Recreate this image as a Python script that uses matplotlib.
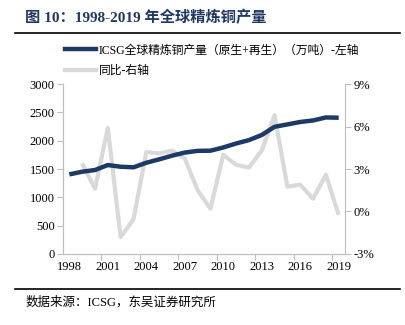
import numpy as np
import matplotlib
matplotlib.use("Agg")
import matplotlib.pyplot as plt
from matplotlib.lines import Line2D

plt.rcParams['font.family'] = ['Liberation Serif', 'Noto Sans CJK SC', 'DejaVu Sans']

years = list(range(1998, 2020))
# refined copper output (10k t), left axis
output = [1405, 1452, 1482, 1570, 1540, 1530, 1610, 1670, 1735, 1790, 1820,
          1823, 1880, 1950, 2010, 2100, 2245, 2287, 2330, 2357, 2410, 2405]
# yoy (%), right axis, starts 1999
yoy_years = list(range(1999, 2020))
yoy = [3.4, 1.6, 5.9, -1.8, -0.55, 4.2, 4.1, 4.3, 3.75, 1.5,
       0.2, 4.0, 3.3, 3.1, 4.3, 6.8, 1.75, 1.9, 0.9, 2.6, -0.25]

xlabels = ['1998', '2001', '2004', '2007', '2010', '2013', '2016', '2019']

navy = '#1b3a66'
grey = '#d9d9d9'
spine_c = '#bfbfbf'

fig = plt.figure(figsize=(4.06, 3.25), dpi=100)
ax = fig.add_axes([0.155, 0.2185, 0.695, 0.523])
ax2 = ax.twinx()

ax.plot(years, output, color=navy, lw=3.2, zorder=3, solid_capstyle='butt')
ax2.plot(yoy_years, yoy, color=grey, lw=3.0, zorder=2, solid_capstyle='butt')
ax.set_zorder(ax2.get_zorder() + 1)
ax.patch.set_visible(False)

ax.set_xlim(1997.5, 2019.5)
ax.set_ylim(0, 3000)
ax.set_yticks(np.arange(0, 3001, 500))
ax2.set_ylim(-3, 9)
ax2.set_yticks([-3, 0, 3, 6, 9])
ax2.set_yticklabels(['-3%', '0%', '3%', '6%', '9%'])

# ticks between categories, labels on the years
ax.set_xticks(np.arange(2000.5, 2019, 3))
ax.set_xticklabels([])
ax.set_xticks([int(s) for s in xlabels], minor=True)
ax.set_xticklabels(xlabels, minor=True)
ax.tick_params(axis='x', which='minor', length=0, pad=5, labelsize=9)
ax.tick_params(axis='x', which='major', length=4, color=spine_c)
ax.tick_params(axis='y', length=4, color=spine_c, labelsize=9, pad=2)
ax2.tick_params(axis='y', length=4, color=spine_c, labelsize=9, pad=2)

for a in (ax, ax2):
    a.spines['top'].set_visible(False)
    for s in ('left', 'right', 'bottom'):
        a.spines[s].set_color(spine_c)
ax.spines['right'].set_visible(False)

# legend
handles = [Line2D([], [], color=navy, lw=3.2),
           Line2D([], [], color=grey, lw=3.0)]
labels = ['ICSG全球精炼铜产量（原生+再生）（万吨）-左轴', '同比-右轴']
fig.legend(handles, labels, loc='upper left', bbox_to_anchor=(0.148, 0.878),
           frameon=False, fontsize=8.5, handlelength=2.6, handletextpad=0.3,
           labelspacing=0.75, borderaxespad=0)

# title and rules
fig.text(0.062, 0.945, '图 10：1998-2019 年全球精炼铜产量', fontsize=11,
         fontweight='bold', color='#1f3864', va='center', ha='left')
fig.add_artist(Line2D([0.037, 0.985], [0.898, 0.898], color='black', lw=1.2))
fig.add_artist(Line2D([0.037, 0.985], [0.111, 0.111], color='black', lw=1.2))
fig.text(0.062, 0.07, '数据来源：ICSG，东吴证券研究所', fontsize=9,
         va='center', ha='left')

fig.savefig('out.png', dpi=100)
